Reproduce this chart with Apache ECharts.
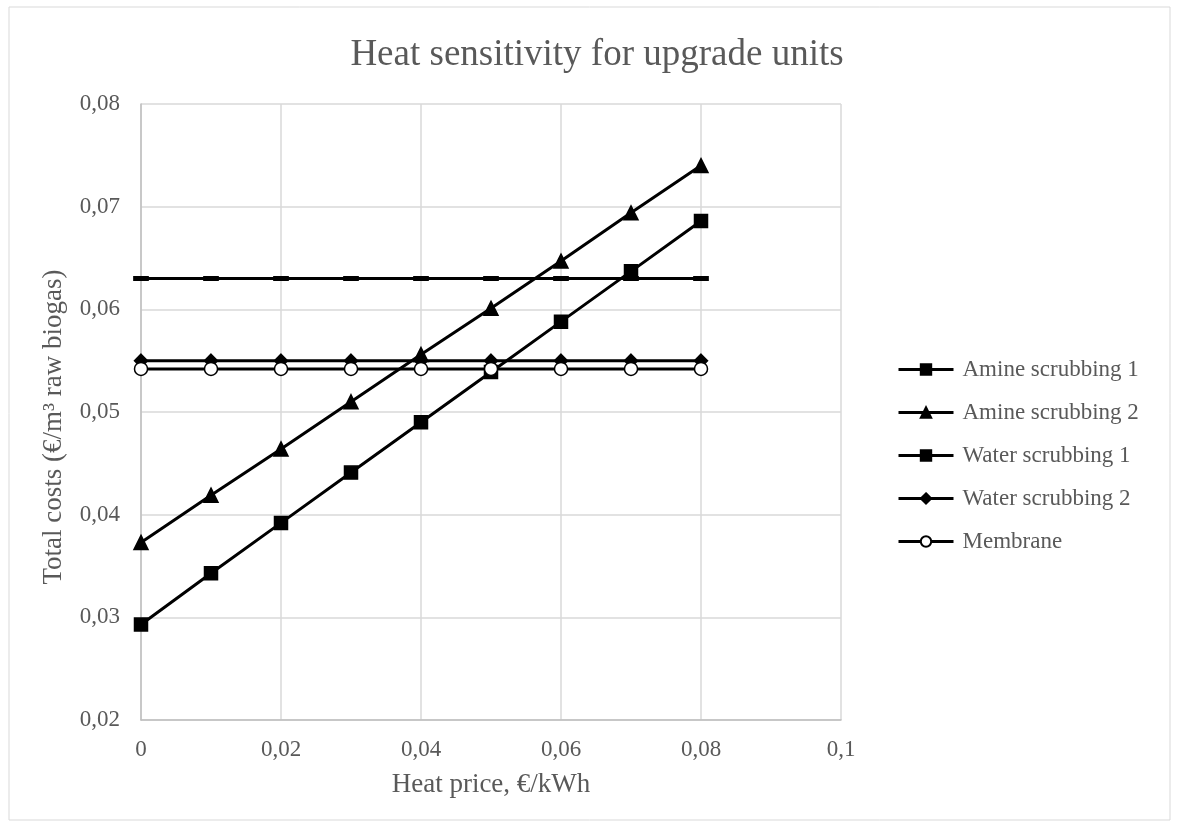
<html>
<head>
<meta charset="utf-8">
<title>Heat sensitivity</title>
<script src="https://cdn.jsdelivr.net/npm/echarts@6/dist/echarts.min.js"></script>
</head>
<body style="margin:0;padding:0;background:#fff;">
<div id="main" style="width:1179px;height:827px;"></div>
<script>
// heat price, EUR/kWh
var heatPrice = [0, 0.01, 0.02, 0.03, 0.04, 0.05, 0.06, 0.07, 0.08];
// total costs, EUR/m3 raw biogas
var amine1 = [0.0293, 0.0343, 0.0392, 0.0441, 0.0490, 0.0539, 0.0588, 0.0637, 0.0686];
var amine2 = [0.0373, 0.0419, 0.0464, 0.0510, 0.0556, 0.0601, 0.0647, 0.0694, 0.0740];
var water1 = [0.0630, 0.0630, 0.0630, 0.0630, 0.0630, 0.0630, 0.0630, 0.0630, 0.0630];
var water2 = [0.0550, 0.0550, 0.0550, 0.0550, 0.0550, 0.0550, 0.0550, 0.0550, 0.0550];
var membrane = [0.0542, 0.0542, 0.0542, 0.0542, 0.0542, 0.0542, 0.0542, 0.0542, 0.0542];

function pairs(ys) {
    return heatPrice.map(function (x, i) { return [x, ys[i]]; });
}
function comma(v) {
    return String(v).replace('.', ',');
}

var font = '"Liberation Serif", "Times New Roman", serif';
var grey = '#595959';

function line(name, ys, symbol, size, fill) {
    return {
        name: name,
        type: 'line',
        data: pairs(ys),
        symbol: symbol,
        symbolSize: size,
        showSymbol: true,
        lineStyle: { color: '#000', width: 3 },
        itemStyle: { color: fill, borderColor: '#000', borderWidth: 1.5 },
        emphasis: { disabled: true }
    };
}

var myChart = echarts.init(document.getElementById('main'));
var option = {
    backgroundColor: '#fff',
    animation: false,
    graphic: [{
        type: 'rect',
        shape: { x: 9, y: 7, width: 1161, height: 813 },
        style: { fill: 'none', stroke: '#d9d9d9', lineWidth: 1 }
    }],
    title: {
        text: 'Heat sensitivity for upgrade units',
        left: 592,
        textAlign: 'center',
        top: 32,
        textStyle: { fontFamily: font, fontSize: 37, fontWeight: 'normal', color: grey }
    },
    legend: {
        orient: 'vertical',
        left: 892,
        top: 353,
        itemGap: 20,
        itemWidth: 55,
        itemHeight: 13,
        lineStyle: { width: 3 },
        textStyle: { fontFamily: font, fontSize: 23, color: grey, padding: [0, 0, 0, 4] },
        data: ['Amine scrubbing 1', 'Amine scrubbing 2', 'Water scrubbing 1', 'Water scrubbing 2', 'Membrane']
    },
    grid: { left: 141, top: 104, width: 700, height: 616, containLabel: false },
    xAxis: {
        type: 'value',
        min: 0, max: 0.1, interval: 0.02,
        name: 'Heat price, €/kWh',
        nameLocation: 'middle',
        nameGap: 51,
        nameTextStyle: { fontFamily: font, fontSize: 27, color: grey },
        axisLine: { show: true, lineStyle: { color: '#bfbfbf', width: 1.5 } },
        axisTick: { show: false },
        axisLabel: { fontFamily: font, fontSize: 23, color: grey, margin: 18, formatter: comma },
        splitLine: { show: true, lineStyle: { color: '#d9d9d9', width: 1.5 } }
    },
    yAxis: {
        type: 'value',
        min: 0.02, max: 0.08, interval: 0.01,
        name: 'Total costs (€/m³ raw biogas)',
        nameLocation: 'middle',
        nameGap: 74,
        nameTextStyle: { fontFamily: font, fontSize: 27, color: grey, padding: [0, 30, 0, 0] },
        axisLine: { show: true, lineStyle: { color: '#bfbfbf', width: 1.5 } },
        axisTick: { show: false },
        axisLabel: { fontFamily: font, fontSize: 23, color: grey, margin: 21, formatter: comma },
        splitLine: { show: true, lineStyle: { color: '#d9d9d9', width: 1.5 } }
    },
    series: [
        line('Amine scrubbing 1', amine1, 'rect', 13, '#000'),
        line('Amine scrubbing 2', amine2, 'triangle', 14, '#000'),
        line('Water scrubbing 1', water1, 'rect', [13, 4], '#000'),
        line('Water scrubbing 2', water2, 'diamond', 13, '#000'),
        line('Membrane', membrane, 'circle', 13, '#fff')
    ]
};
myChart.setOption(option);
</script>
</body>
</html>
